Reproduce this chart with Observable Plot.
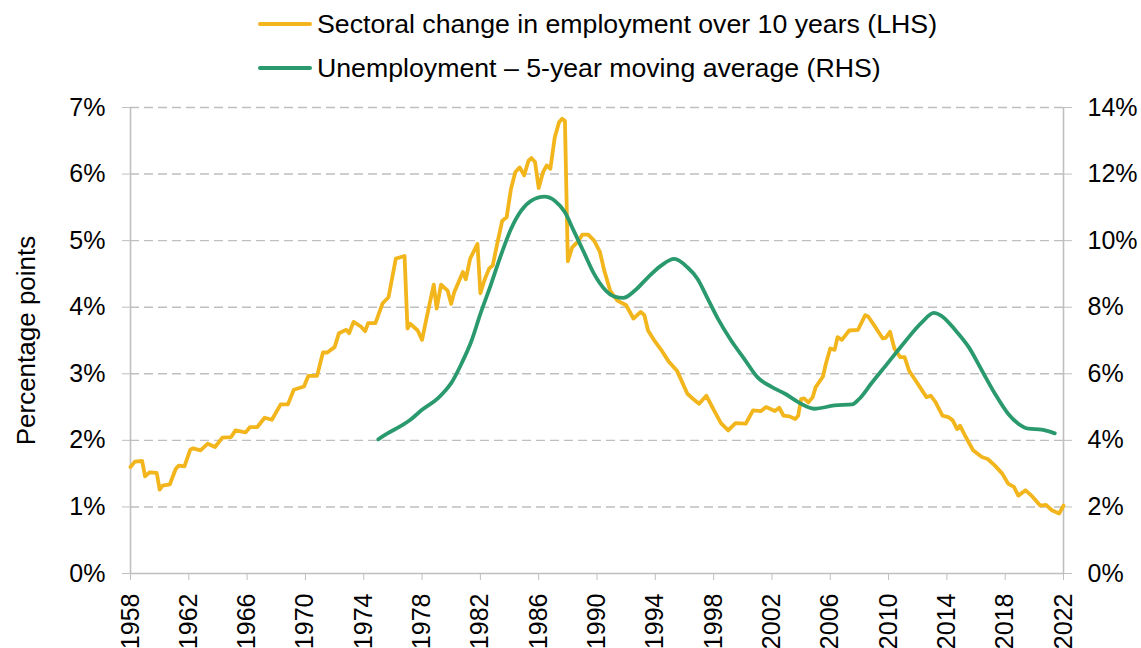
<!DOCTYPE html>
<html><head><meta charset="utf-8">
<script src="https://cdn.jsdelivr.net/npm/d3@7"></script>
<script src="https://cdn.jsdelivr.net/npm/@observablehq/plot@0.6"></script>
<style>
body{margin:0;background:#fff;font-family:"Liberation Sans",Arial,sans-serif;}
#legend{position:relative;height:90px;width:1141px;}
.item{position:absolute;left:258px;display:flex;align-items:center;font-size:26.7px;line-height:30px;color:#000;white-space:nowrap;}
.swatch{width:54px;height:4px;margin-right:5px;border-radius:2px;}
svg{display:block;}
</style></head><body>
<div id="legend"></div>
<div id="chart"></div>
<script>
// ---- Data ----
const seriesNames = ["Sectoral change in employment over 10 years (LHS)", "Unemployment \u2013 5-year moving average (RHS)"];
const seriesColors = ["#F2B51C", "#2A9A6E"];

const sectoralYears = [1958.0,1958.3,1958.8,1959.0,1959.3,1959.8,1960.0,1960.2,1960.7,1961.1,1961.3,1961.7,1962.1,1962.3,1962.8,1963.3,1963.8,1964.3,1964.9,1965.2,1965.9,1966.2,1966.7,1967.2,1967.7,1968.3,1968.8,1969.2,1969.9,1970.2,1970.8,1971.2,1971.5,1972.0,1972.3,1972.8,1973.0,1973.3,1973.8,1974.1,1974.3,1974.8,1975.3,1975.7,1976.2,1976.8,1977.0,1977.2,1977.7,1978.0,1978.3,1978.8,1979.0,1979.3,1979.75,1980.0,1980.2,1980.8,1981.0,1981.3,1981.8,1982.0,1982.3,1982.6,1982.85,1983.2,1983.5,1983.8,1984.1,1984.4,1984.7,1985.0,1985.3,1985.5,1985.75,1986.0,1986.3,1986.55,1986.8,1987.1,1987.4,1987.6,1987.8,1988.0,1988.3,1988.7,1989.0,1989.4,1989.8,1990.2,1990.5,1990.9,1991.4,1992.0,1992.5,1993.0,1993.25,1993.5,1993.9,1994.4,1994.9,1995.5,1996.2,1996.6,1997.0,1997.5,1998.1,1998.5,1999.0,1999.5,2000.2,2000.7,2001.25,2001.6,2002.2,2002.5,2002.8,2003.2,2003.6,2003.8,2004.0,2004.2,2004.5,2004.8,2005.0,2005.5,2005.7,2006.0,2006.3,2006.5,2006.8,2007.3,2007.9,2008.4,2008.6,2009.1,2009.6,2009.8,2010.1,2010.4,2010.8,2011.1,2011.4,2012.0,2012.6,2012.9,2013.2,2013.7,2014.1,2014.4,2014.7,2014.9,2015.3,2015.8,2016.4,2016.8,2017.3,2017.8,2018.2,2018.6,2018.9,2019.4,2019.8,2020.4,2020.8,2021.2,2021.7,2022.0];
const sectoralValues = [1.60,1.68,1.69,1.46,1.52,1.51,1.26,1.32,1.34,1.57,1.62,1.61,1.86,1.88,1.85,1.95,1.90,2.04,2.05,2.15,2.12,2.20,2.20,2.34,2.31,2.54,2.54,2.76,2.81,2.97,2.97,3.32,3.32,3.40,3.61,3.66,3.61,3.78,3.71,3.64,3.76,3.76,4.06,4.15,4.73,4.77,3.68,3.75,3.65,3.51,3.83,4.34,3.98,4.34,4.25,4.05,4.22,4.53,4.42,4.73,4.95,4.21,4.42,4.58,4.63,5.00,5.30,5.35,5.78,6.03,6.10,5.98,6.20,6.24,6.18,5.79,6.03,6.13,6.08,6.55,6.78,6.83,6.80,4.69,4.90,4.99,5.09,5.09,5.00,4.83,4.55,4.25,4.10,4.03,3.83,3.93,3.88,3.65,3.51,3.36,3.19,3.04,2.70,2.62,2.55,2.67,2.42,2.26,2.15,2.26,2.25,2.45,2.44,2.50,2.44,2.49,2.37,2.36,2.32,2.37,2.62,2.63,2.57,2.65,2.80,2.96,3.15,3.38,3.36,3.55,3.51,3.65,3.66,3.88,3.86,3.70,3.53,3.54,3.63,3.38,3.25,3.25,3.05,2.85,2.65,2.67,2.58,2.37,2.35,2.30,2.17,2.22,2.05,1.85,1.75,1.72,1.62,1.50,1.35,1.30,1.17,1.25,1.17,1.02,1.03,0.95,0.90,1.02];

const unempYears = [1975.0,1975.6,1976.5,1977.2,1978.0,1979.1,1979.6,1980.0,1980.7,1981.4,1982.0,1982.7,1983.4,1984.1,1984.8,1985.5,1986.4,1987.1,1987.8,1988.4,1989.1,1989.8,1990.5,1991.2,1991.8,1992.6,1993.5,1994.4,1995.3,1996.2,1996.9,1997.6,1998.3,1999.2,2000.1,2001.0,2002.0,2002.9,2003.8,2004.9,2006.3,2007.5,2008.0,2008.8,2010.0,2011.1,2012.3,2013.1,2013.6,2014.6,2015.5,2016.4,2017.3,2018.2,2018.9,2019.6,2020.5,2021.4];
const unempValues = [4.03,4.20,4.42,4.62,4.92,5.27,5.50,5.72,6.30,7.00,7.80,8.65,9.55,10.35,10.90,11.20,11.32,11.20,10.85,10.30,9.65,9.00,8.55,8.32,8.28,8.50,8.90,9.25,9.45,9.20,8.85,8.25,7.65,7.00,6.45,5.90,5.60,5.40,5.15,4.95,5.05,5.08,5.25,5.70,6.35,6.95,7.55,7.83,7.75,7.30,6.80,6.10,5.40,4.80,4.50,4.35,4.32,4.21];

const xTicks = [1958,1962,1966,1970,1974,1978,1982,1986,1990,1994,1998,2002,2006,2010,2014,2018,2022];
const leftTicks = [0,1,2,3,4,5,6,7];      // % (LHS)
const rightTicks = [0,2,4,6,8,10,12,14];  // % (RHS)
const yTitle = "Percentage points";

// ---- Build tables ----
const sectoral = sectoralYears.map((y,i)=>({year:y, value:sectoralValues[i]}));
const unemp = unempYears.map((y,i)=>({year:y, value:unempValues[i]}));
const rightMax = rightTicks[rightTicks.length-1], leftMax = leftTicks[leftTicks.length-1];
const ratio = rightMax/leftMax;

// ---- Legend ----
const legend = document.getElementById("legend");
const legendTops = [9, 53];
seriesNames.forEach((n,i)=>{
  const it = document.createElement("div");
  it.className="item"; it.style.top = legendTops[i]+"px";
  const sw = document.createElement("span"); sw.className="swatch"; sw.style.background=seriesColors[i];
  const tx = document.createElement("span"); tx.textContent=n;
  it.appendChild(sw); it.appendChild(tx); legend.appendChild(it);
});

const grey = "#bfbfbf";
const chart = Plot.plot({
  width: 1141, height: 558,
  marginTop: 17, marginBottom: 75, marginLeft: 130, marginRight: 78,
  style: {fontFamily: '"Liberation Sans", Arial, sans-serif', background: "#fff", color: "#000"},
  x: {domain: [xTicks[0], xTicks[xTicks.length-1]]},
  y: {domain: [0, leftMax]},
  marks: [
    Plot.gridY(leftTicks.filter(d=>d>0), {stroke: grey, strokeOpacity: 1, strokeWidth: 1.4, strokeDasharray: "9,5"}),
    Plot.ruleX([xTicks[0], xTicks[xTicks.length-1]], {stroke: grey, strokeWidth: 1.6}),
    Plot.ruleY([0], {stroke: grey, strokeWidth: 1.6}),
    Plot.axisY(leftTicks, {anchor: "left", label: null, tickSize: 8, tickPadding: 17, stroke: grey, fill: "#000", fontSize: 25, tickFormat: d => d + "%"}),
    Plot.axisY(leftTicks, {anchor: "right", label: null, tickSize: 8, tickPadding: 16, stroke: grey, fill: "#000", fontSize: 25, tickFormat: d => Math.round(d*ratio) + "%"}),
    Plot.axisX(xTicks, {anchor: "bottom", label: null, tickSize: 7, tickPadding: 13, tickRotate: -90, stroke: grey, fill: "#000", fontSize: 25, tickFormat: d => String(d)}),
    Plot.text([yTitle], {frameAnchor: "left", textAnchor: "middle", text: d => d, rotate: -90, dx: -104, fontSize: 26, fill: "#000"}),
    Plot.line(sectoral, {x: "year", y: "value", stroke: seriesColors[0], strokeWidth: 3.8, strokeLinejoin: "round"}),
    Plot.line(unemp, {x: "year", y: d => d.value/ratio, stroke: seriesColors[1], strokeWidth: 3.8, curve: "monotone-x"})
  ]
});
document.getElementById("chart").appendChild(chart);
</script>
</body></html>
